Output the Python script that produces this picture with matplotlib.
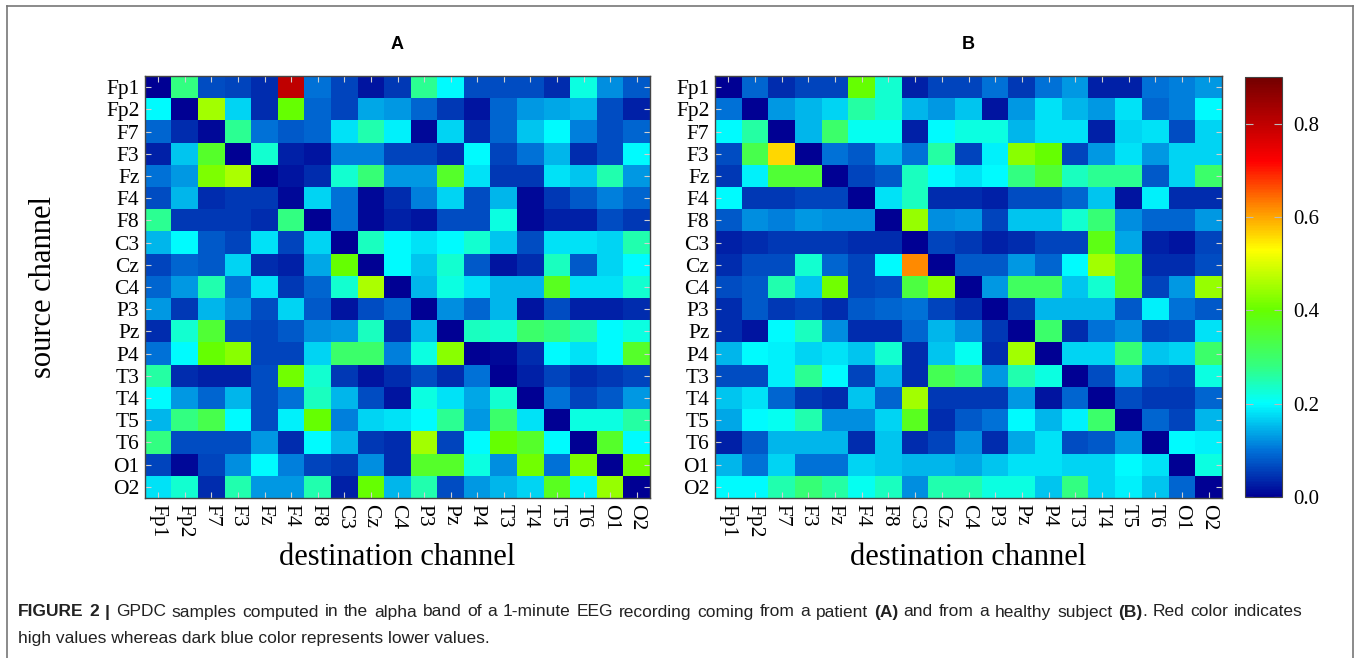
import numpy as np
import matplotlib
matplotlib.use('Agg')
from matplotlib import pyplot as plt
from matplotlib.colors import LinearSegmentedColormap
from matplotlib.lines import Line2D

# channel names
channels = ['Fp1', 'Fp2', 'F7', 'F3', 'Fz', 'F4', 'F8', 'C3', 'Cz', 'C4',
            'P3', 'Pz', 'P4', 'T3', 'T4', 'T5', 'T6', 'O1', 'O2']

# GPDC values, patient (A)
gpdc_a = [
    [0.00, 0.28, 0.07, 0.06, 0.04, 0.80, 0.10, 0.06, 0.02, 0.05, 0.27, 0.20, 0.07, 0.07, 0.07, 0.04, 0.22, 0.12, 0.08],
    [0.20, 0.00, 0.45, 0.17, 0.04, 0.40, 0.09, 0.06, 0.14, 0.13, 0.09, 0.05, 0.02, 0.09, 0.13, 0.14, 0.15, 0.07, 0.03],
    [0.09, 0.04, 0.01, 0.27, 0.10, 0.08, 0.09, 0.18, 0.25, 0.19, 0.01, 0.17, 0.04, 0.09, 0.16, 0.20, 0.11, 0.07, 0.09],
    [0.03, 0.16, 0.36, 0.00, 0.23, 0.03, 0.02, 0.11, 0.11, 0.06, 0.06, 0.04, 0.20, 0.06, 0.10, 0.15, 0.04, 0.07, 0.20],
    [0.10, 0.13, 0.42, 0.46, 0.00, 0.02, 0.04, 0.23, 0.29, 0.13, 0.13, 0.36, 0.18, 0.05, 0.05, 0.18, 0.16, 0.25, 0.13],
    [0.07, 0.15, 0.04, 0.05, 0.05, 0.01, 0.17, 0.10, 0.01, 0.04, 0.11, 0.17, 0.07, 0.15, 0.01, 0.05, 0.08, 0.11, 0.09],
    [0.27, 0.05, 0.05, 0.05, 0.04, 0.28, 0.00, 0.10, 0.01, 0.03, 0.02, 0.07, 0.07, 0.22, 0.01, 0.03, 0.03, 0.07, 0.05],
    [0.15, 0.20, 0.08, 0.06, 0.18, 0.06, 0.17, 0.00, 0.24, 0.20, 0.18, 0.20, 0.23, 0.16, 0.07, 0.18, 0.18, 0.17, 0.25],
    [0.06, 0.09, 0.08, 0.17, 0.04, 0.03, 0.14, 0.40, 0.00, 0.20, 0.16, 0.23, 0.08, 0.02, 0.04, 0.24, 0.08, 0.17, 0.20],
    [0.09, 0.13, 0.25, 0.10, 0.18, 0.05, 0.09, 0.23, 0.46, 0.00, 0.15, 0.22, 0.18, 0.15, 0.15, 0.37, 0.18, 0.18, 0.23],
    [0.13, 0.05, 0.15, 0.12, 0.07, 0.17, 0.08, 0.02, 0.07, 0.09, 0.00, 0.12, 0.09, 0.15, 0.02, 0.07, 0.03, 0.03, 0.04],
    [0.04, 0.23, 0.35, 0.07, 0.06, 0.08, 0.12, 0.13, 0.24, 0.04, 0.15, 0.00, 0.24, 0.23, 0.30, 0.28, 0.25, 0.20, 0.22],
    [0.10, 0.20, 0.40, 0.43, 0.06, 0.06, 0.17, 0.30, 0.30, 0.11, 0.22, 0.43, 0.00, 0.01, 0.04, 0.20, 0.18, 0.20, 0.36],
    [0.26, 0.04, 0.03, 0.03, 0.07, 0.41, 0.23, 0.05, 0.02, 0.04, 0.07, 0.04, 0.10, 0.00, 0.03, 0.06, 0.04, 0.05, 0.06],
    [0.20, 0.13, 0.09, 0.15, 0.07, 0.10, 0.24, 0.15, 0.07, 0.02, 0.22, 0.18, 0.14, 0.23, 0.00, 0.10, 0.06, 0.08, 0.13],
    [0.15, 0.28, 0.33, 0.20, 0.07, 0.19, 0.40, 0.11, 0.17, 0.18, 0.20, 0.27, 0.13, 0.30, 0.18, 0.00, 0.22, 0.22, 0.26],
    [0.28, 0.07, 0.07, 0.07, 0.13, 0.04, 0.20, 0.15, 0.05, 0.04, 0.45, 0.06, 0.20, 0.40, 0.36, 0.20, 0.00, 0.36, 0.20],
    [0.06, 0.01, 0.06, 0.12, 0.20, 0.11, 0.06, 0.05, 0.12, 0.04, 0.36, 0.36, 0.22, 0.12, 0.41, 0.10, 0.42, 0.00, 0.41],
    [0.18, 0.23, 0.04, 0.25, 0.13, 0.13, 0.25, 0.03, 0.40, 0.15, 0.25, 0.07, 0.13, 0.15, 0.17, 0.37, 0.19, 0.44, 0.00],
]

# healthy subject (B)
gpdc_b = [
    [0.00, 0.09, 0.04, 0.06, 0.06, 0.40, 0.23, 0.03, 0.06, 0.06, 0.10, 0.05, 0.10, 0.13, 0.03, 0.03, 0.10, 0.11, 0.13],
    [0.10, 0.00, 0.13, 0.15, 0.17, 0.26, 0.23, 0.15, 0.13, 0.16, 0.02, 0.13, 0.18, 0.15, 0.13, 0.18, 0.09, 0.11, 0.20],
    [0.20, 0.26, 0.00, 0.15, 0.30, 0.21, 0.21, 0.03, 0.20, 0.22, 0.22, 0.15, 0.18, 0.18, 0.03, 0.17, 0.18, 0.07, 0.17],
    [0.07, 0.33, 0.56, 0.00, 0.10, 0.08, 0.15, 0.10, 0.26, 0.06, 0.19, 0.43, 0.40, 0.06, 0.13, 0.18, 0.13, 0.17, 0.17],
    [0.05, 0.19, 0.35, 0.35, 0.00, 0.06, 0.08, 0.24, 0.20, 0.18, 0.20, 0.28, 0.35, 0.24, 0.27, 0.27, 0.08, 0.17, 0.30],
    [0.20, 0.05, 0.05, 0.06, 0.06, 0.00, 0.18, 0.24, 0.04, 0.04, 0.03, 0.07, 0.07, 0.09, 0.16, 0.02, 0.19, 0.04, 0.04],
    [0.08, 0.12, 0.11, 0.13, 0.12, 0.12, 0.00, 0.44, 0.12, 0.13, 0.06, 0.16, 0.16, 0.23, 0.29, 0.12, 0.09, 0.09, 0.13],
    [0.03, 0.04, 0.05, 0.05, 0.05, 0.04, 0.04, 0.00, 0.06, 0.05, 0.03, 0.04, 0.06, 0.06, 0.38, 0.14, 0.03, 0.02, 0.06],
    [0.04, 0.07, 0.07, 0.23, 0.09, 0.06, 0.20, 0.62, 0.00, 0.08, 0.08, 0.13, 0.09, 0.20, 0.45, 0.36, 0.04, 0.04, 0.07],
    [0.07, 0.08, 0.25, 0.16, 0.41, 0.06, 0.07, 0.34, 0.43, 0.00, 0.13, 0.31, 0.31, 0.16, 0.23, 0.36, 0.06, 0.13, 0.44],
    [0.04, 0.08, 0.05, 0.06, 0.04, 0.08, 0.09, 0.10, 0.06, 0.04, 0.00, 0.05, 0.15, 0.15, 0.15, 0.08, 0.19, 0.10, 0.08],
    [0.04, 0.02, 0.20, 0.24, 0.12, 0.04, 0.04, 0.09, 0.15, 0.12, 0.05, 0.00, 0.30, 0.04, 0.10, 0.12, 0.06, 0.07, 0.18],
    [0.15, 0.20, 0.19, 0.17, 0.18, 0.16, 0.23, 0.04, 0.16, 0.21, 0.04, 0.45, 0.00, 0.17, 0.17, 0.29, 0.16, 0.17, 0.30],
    [0.07, 0.07, 0.19, 0.27, 0.20, 0.06, 0.15, 0.04, 0.32, 0.29, 0.13, 0.25, 0.22, 0.00, 0.07, 0.15, 0.07, 0.06, 0.22],
    [0.16, 0.18, 0.09, 0.05, 0.04, 0.16, 0.09, 0.45, 0.05, 0.05, 0.05, 0.13, 0.02, 0.09, 0.00, 0.07, 0.05, 0.05, 0.09],
    [0.14, 0.20, 0.21, 0.25, 0.12, 0.12, 0.17, 0.37, 0.04, 0.08, 0.10, 0.20, 0.15, 0.19, 0.30, 0.00, 0.09, 0.06, 0.15],
    [0.03, 0.08, 0.15, 0.15, 0.15, 0.04, 0.16, 0.04, 0.06, 0.12, 0.04, 0.14, 0.18, 0.07, 0.08, 0.13, 0.00, 0.20, 0.19],
    [0.15, 0.10, 0.17, 0.10, 0.10, 0.17, 0.16, 0.15, 0.15, 0.14, 0.16, 0.18, 0.18, 0.17, 0.17, 0.20, 0.18, 0.00, 0.22],
    [0.20, 0.20, 0.25, 0.29, 0.26, 0.21, 0.24, 0.12, 0.25, 0.25, 0.22, 0.22, 0.16, 0.28, 0.17, 0.19, 0.16, 0.09, 0.00],
]

cbar_ticks = [0.0, 0.2, 0.4, 0.6, 0.8]
vmax = 0.9

# jet-like palette, stops given in data units
stops = [(0.0, (0.0, 0.0, 0.58)), (0.1, (0.0, 0.45, 0.85)), (0.2, (0.0, 1.0, 1.0)),
         (0.28, (0.2, 1.0, 0.5)), (0.4, (0.4, 1.0, 0.0)), (0.53, (1.0, 1.0, 0.0)),
         (0.62, (1.0, 0.55, 0.0)), (0.72, (1.0, 0.0, 0.0)), (0.9, (0.45, 0.0, 0.0))]
cmap = LinearSegmentedColormap.from_list('gpdc', [(v / vmax, c) for v, c in stops])

serif = ['Liberation Serif', 'DejaVu Serif']
W, H = 1360, 658
fig = plt.figure(figsize=(W / 100, H / 100), dpi=100)
fig.patch.set_facecolor('white')


def box(l, t, r, b):
    return [l / W, 1 - b / H, (r - l) / W, (b - t) / H]


def heat(ax, data, title):
    im = ax.imshow(np.array(data), cmap=cmap, vmin=0, vmax=vmax, aspect='auto',
                   interpolation='nearest')
    ax.set_xticks(range(len(channels)))
    ax.set_yticks(range(len(channels)))
    ax.set_xticklabels(channels, rotation=270, family=serif, fontsize=15.5)
    ax.set_yticklabels(channels, family=serif, fontsize=15.5)
    ax.tick_params(direction='in', length=4, width=0.8, color='#d0d0d0',
                   top=True, right=True, pad=4)
    for s in ax.spines.values():
        s.set_color('#444444')
        s.set_linewidth(1.0)
    ax.text(0.5, -0.142, 'destination channel', transform=ax.transAxes,
            family=serif, fontsize=22, ha='center', va='center')
    ax.text(0.5, 1.074, title, transform=ax.transAxes, fontweight='bold',
            fontsize=13, ha='center', va='center',
            family=['Liberation Sans', 'DejaVu Sans'])
    return im


ax_a = fig.add_axes(box(145, 76, 650, 498))
ax_b = fig.add_axes(box(715, 76, 1222, 498))
im = heat(ax_a, gpdc_a, 'A')
heat(ax_b, gpdc_b, 'B')
ax_a.text(-0.2, 0.5, 'source channel', transform=ax_a.transAxes, rotation=90,
          family=serif, fontsize=22, ha='center', va='center')

cax = fig.add_axes(box(1245, 77, 1282, 497))
cb = fig.colorbar(im, cax=cax, ticks=cbar_ticks)
cb.ax.set_yticklabels(['%.1f' % t for t in cbar_ticks], family=serif, fontsize=15)
cb.ax.tick_params(direction='in', length=6, width=0.8, color='#bbbbbb', left=True, pad=8)
cb.outline.set_edgecolor('#444444')

# frame around the whole figure
for xs, ys in [([7, 7], [6, 660]), ([7, 1353], [6, 6]), ([1353, 1353], [6, 660])]:
    fig.add_artist(Line2D([x / W for x in xs], [1 - y / H for y in ys],
                          color='#777777', lw=1.2))

# caption: first line justified with bold pieces, second line plain
cap_font = ['Liberation Sans', 'DejaVu Sans']
cap_size = 12.5
cap_line1 = [('FIGURE 2 |', True),
             (' GPDC samples computed in the alpha band of a 1-minute EEG recording coming from a patient ', False),
             ('(A)', True), (' and from a healthy subject ', False), ('(B)', True),
             ('. Red color indicates', False)]
cap_line2 = 'high values whereas dark blue color represents lower values.'
renderer = fig.canvas.get_renderer()


def width_of(txt, bold):
    t = fig.text(0, 0, txt, family=cap_font, fontsize=cap_size,
                 fontweight='bold' if bold else 'normal')
    w = t.get_window_extent(renderer).width
    t.remove()
    return w


left, right = 18, 1303
tokens = [[]]
for txt, bold in cap_line1:
    for j, p in enumerate(txt.split(' ')):
        if j > 0:
            tokens.append([])
        if p:
            tokens[-1].append((p, bold))
tokens = [t for t in tokens if t]
widths = [sum(width_of(p, b) for p, b in tok) for tok in tokens]
gap = (right - left - sum(widths)) / (len(tokens) - 1)
x = left
y1 = 1 - 612 / H
for tok, w in zip(tokens, widths):
    xx = x
    for p, b in tok:
        fig.text(xx / W, y1, p, family=cap_font, fontsize=cap_size, color='#222222',
                 fontweight='bold' if b else 'normal', va='center', ha='left')
        xx += width_of(p, b)
    x += w + gap

fig.text(left / W, 1 - 638 / H, cap_line2, family=cap_font, fontsize=cap_size,
         color='#222222', va='center', ha='left')

fig.savefig('out.png', dpi=100, facecolor='white')
